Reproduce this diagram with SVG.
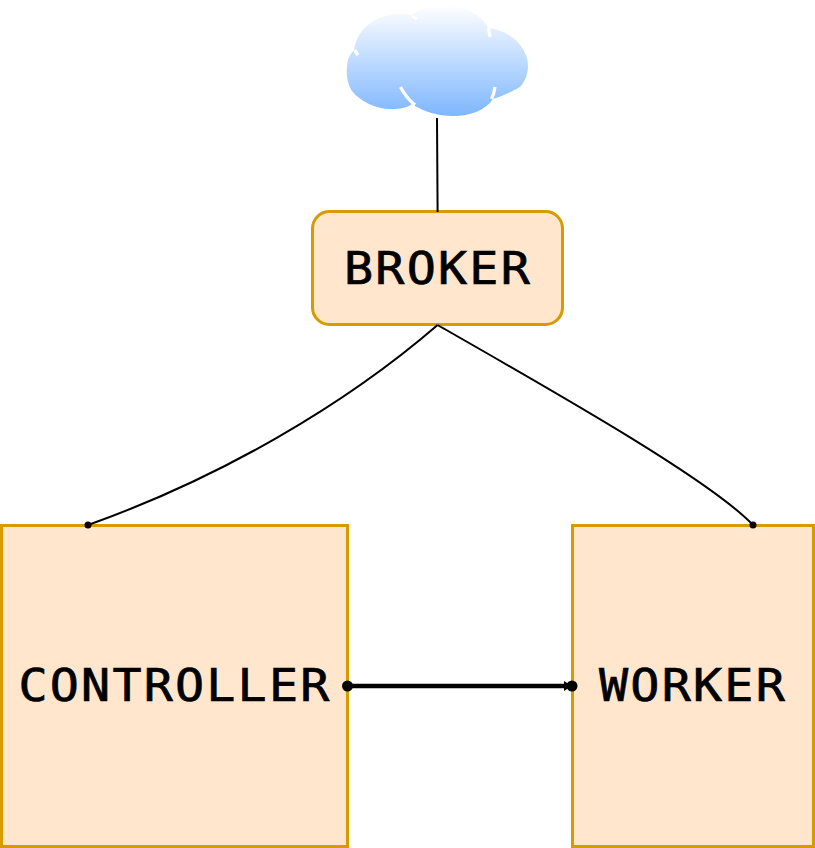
<svg xmlns="http://www.w3.org/2000/svg" width="815" height="848" viewBox="0 0 815 848">
<style>
.box{fill:#ffe6cc;stroke:#d79b00;stroke-width:3}
.lbl{font-family:"DejaVu Sans Mono","Liberation Mono",monospace;font-size:44px;letter-spacing:2px;fill:#000;stroke:#000;stroke-width:.7px;text-anchor:middle}
.thin{fill:none;stroke:#000;stroke-width:2}
.gap{fill:none;stroke:#fff;stroke-width:3.2;stroke-linecap:butt}
</style>
<defs>
<linearGradient id="sky" x1="0" y1="0" x2="0" y2="1">
<stop offset="0" stop-color="#ffffff"/>
<stop offset="1" stop-color="#7eb6ff"/>
</linearGradient>
</defs>
<g id="cloud">
<path fill="url(#sky)" d="M412 15C421 8 432 5 443 5C465 5 482 15 488 28C506 30 520 40 526 55C530 66 528 78 520 87C513 91 503 96 493 99C486 110 470 116 453 116C438 116 424 112 412 104C405 109 396 109 388 109C375 108 361 102 352 91C348 85 346 76 347 67C347 60 350 54 354 50C356 38 362 28 372 22C384 14 400 12 412 15Z"/>
<path class="gap" d="M412 16L417 19M488.500 28L490 37M354.500 50L358 55M400.500 87C404 94 409 100 415 105M495 87C494.500 91 493.500 95 491.500 99"/>
</g>
<g id="broker">
<rect class="box" x="312.500" y="211.500" width="250" height="113" rx="17"/>
<text class="lbl" x="438" y="284" textLength="188" lengthAdjust="spacingAndGlyphs">BROKER</text>
</g>
<g id="controller">
<rect class="box" x="1.500" y="525.500" width="346" height="321"/>
<text class="lbl" x="175" y="701" textLength="313" lengthAdjust="spacingAndGlyphs">CONTROLLER</text>
</g>
<g id="worker">
<rect class="box" x="572.500" y="525.500" width="241" height="321"/>
<text class="lbl" x="693" y="701" textLength="188" lengthAdjust="spacingAndGlyphs">WORKER</text>
</g>
<g id="connectors">
<path class="thin" d="M437 118L437.600 212"/>
<path class="thin" d="M437.600 325C345 405 220 478 88 525"/>
<path class="thin" d="M437.600 325C560 395 710 480 753 525"/>
<circle cx="88" cy="525" r="3.500"/>
<circle cx="753" cy="525" r="3.500"/>
<path d="M347.500 686H570" fill="none" stroke="#000" stroke-width="4.500"/>
<circle cx="347.500" cy="686" r="5.500"/>
<circle cx="572" cy="686" r="5.500"/>
<path d="M564 681L572 686L564 691Z"/>
</g>
</svg>
